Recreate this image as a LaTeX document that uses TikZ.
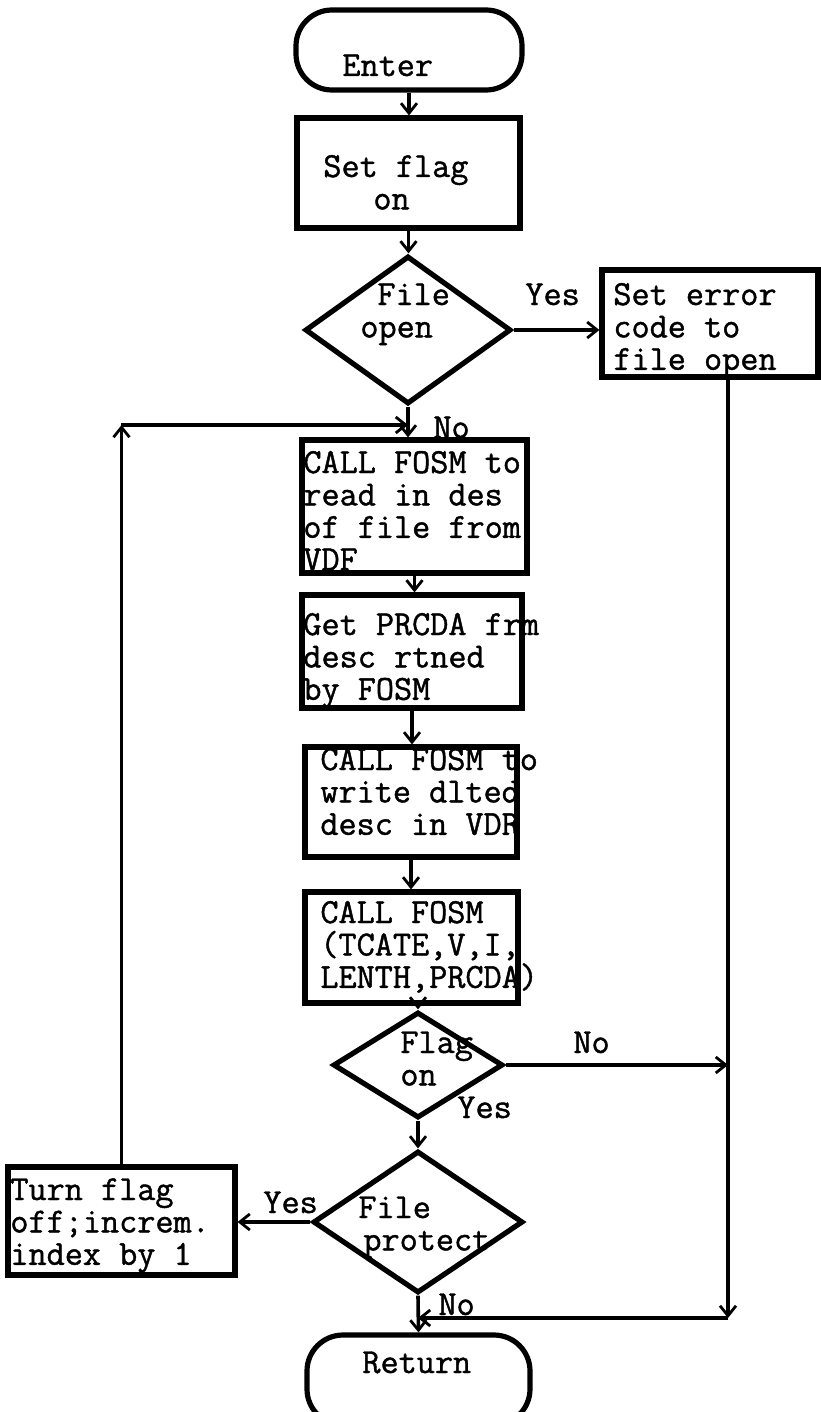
\documentclass[tikz,border=0pt]{standalone}
\usepackage{fontspec}
\newfontfamily\tw{Latin Modern Mono}[FakeBold=1.2]
\usetikzlibrary{shapes.geometric,arrows.meta}
\newcommand\ml[1]{\parbox[t]{150pt}{\raggedright #1}}
\tikzset{
  shp/.style={draw, line width=2.6pt, inner sep=0pt},
  boxx/.style={shp, rectangle},
  term/.style={shp, rectangle, rounded corners=18pt},
  dia/.style={shp, diamond},
  conn/.style={line width=1.8pt, -{Straight Barb[length=5pt,width=8pt,line width=1.4pt]}},
  txt/.style={anchor=base west, inner sep=0pt, font=\tw\fontsize{17.6}{16.2}\selectfont},
}
\begin{document}
\begin{tikzpicture}[x=0.5pt,y=-0.5pt]
\fill[white] (0,0) rectangle (820,1412);
\useasboundingbox (0,0) rectangle (820,1412);

% shapes
\node[term, minimum width=113pt, minimum height=40pt] (enter) at (409,50) {};
\node[boxx, minimum width=111.5pt, minimum height=55pt] (setflag) at (408.5,173) {};
\node[dia, minimum width=103pt, minimum height=74pt] (fileopen) at (408,330) {};
\node[boxx, minimum width=108pt, minimum height=53.5pt] (error) at (710,323.5) {};
\node[boxx, minimum width=112.5pt, minimum height=66.5pt] (box1) at (414.5,506.5) {};
\node[boxx, minimum width=110pt, minimum height=56.5pt] (box2) at (412,651.5) {};
\node[boxx, minimum width=106pt, minimum height=55pt] (box3) at (411,802) {};
\node[boxx, minimum width=106.5pt, minimum height=55.5pt] (box4) at (411.5,947.5) {};
\node[dia, minimum width=85pt, minimum height=53pt] (flagon) at (418,1065) {};
\node[dia, minimum width=105pt, minimum height=71pt] (fileprot) at (418,1222) {};
\node[boxx, minimum width=113.5pt, minimum height=54pt] (turnflag) at (121.5,1221) {};
\node[term, minimum width=111.5pt, minimum height=45pt] (return) at (418.5,1380) {};

% texts
\node[txt] (tenter) at (342,76) {Enter};
\node[txt] (tsetflag) at (323,177) {\ml{Set flag\\\hspace*{25pt}on}};
\node[txt] (tfileopen) at (360,305) {\ml{\hspace*{8.5pt}File\\open}};
\node[txt] (tyes1) at (525,305) {Yes};
\node[txt] (terror) at (613,305) {\ml{Set error\\code to\\file open}};
\node[txt] (tno1) at (433,438) {No};
\node[txt] (tbox1) at (303,473) {\ml{CALL FOSM to\\read in des\\of file from\\VDF}};
\node[txt] (tbox2) at (303,635) {\ml{Get PRCDA frm\\desc rtned\\by FOSM}};
\node[txt] (tbox3) at (320,770) {\ml{CALL FOSM to\\write dlted\\desc in VDR}};
\node[txt] (tbox4) at (320,923) {\ml{CALL FOSM\\(TCATE,V,I,\\LENTH,PRCDA)}};
\node[txt] (tflagon) at (400,1053) {\ml{Flag\\on}};
\node[txt] (tno2) at (573,1053) {No};
\node[txt] (tyes2) at (457,1118) {Yes};
\node[txt] (tturn) at (10,1200) {\ml{Turn flag\\off;increm.\\index by 1}};
\node[txt] (tyes3) at (263,1213) {Yes};
\node[txt] (tfileprot) at (358,1218) {\ml{File\\\hspace*{2.5pt}protect}};
\node[txt] (tno3) at (438,1315) {No};
\node[txt] (treturn) at (362,1373) {Return};

% connectors
\coordinate (loopc) at (121,425);
\coordinate (loopj) at (408,425);
\coordinate (rbot) at (728,1318);
\draw[conn] (enter.south) -- (enter.south |- setflag.north);
\draw[conn] (setflag.south) -- (setflag.south |- fileopen.north);
\draw[conn] (fileopen.east) -- (error.west |- fileopen.east);
\draw[conn] (fileopen.south) -- (fileopen.south |- box1.north);
\draw[conn] (turnflag.north) -- (turnflag.north |- loopc);
\draw[conn] (loopc) -- (loopj);
\draw[conn] (box1.south) -- (box1.south |- box2.north);
\draw[conn] (box2.south) -- (box2.south |- box3.north);
\draw[conn] (box3.south) -- (box3.south |- box4.north);
\draw[conn] (flagon.north |- box4.south) -- (flagon.north);
\draw[conn] (flagon.south) -- (fileprot.north);
\draw[conn] (error.south -| rbot) -- (rbot);
\draw[conn] (flagon.east) -- (flagon.east -| rbot);
\draw[conn] (rbot) -- (rbot -| fileprot.south);
\draw[conn] (fileprot.south) -- (return.north);
\draw[conn] (fileprot.west) -- (turnflag.east |- fileprot.west);
\end{tikzpicture}
\end{document}
